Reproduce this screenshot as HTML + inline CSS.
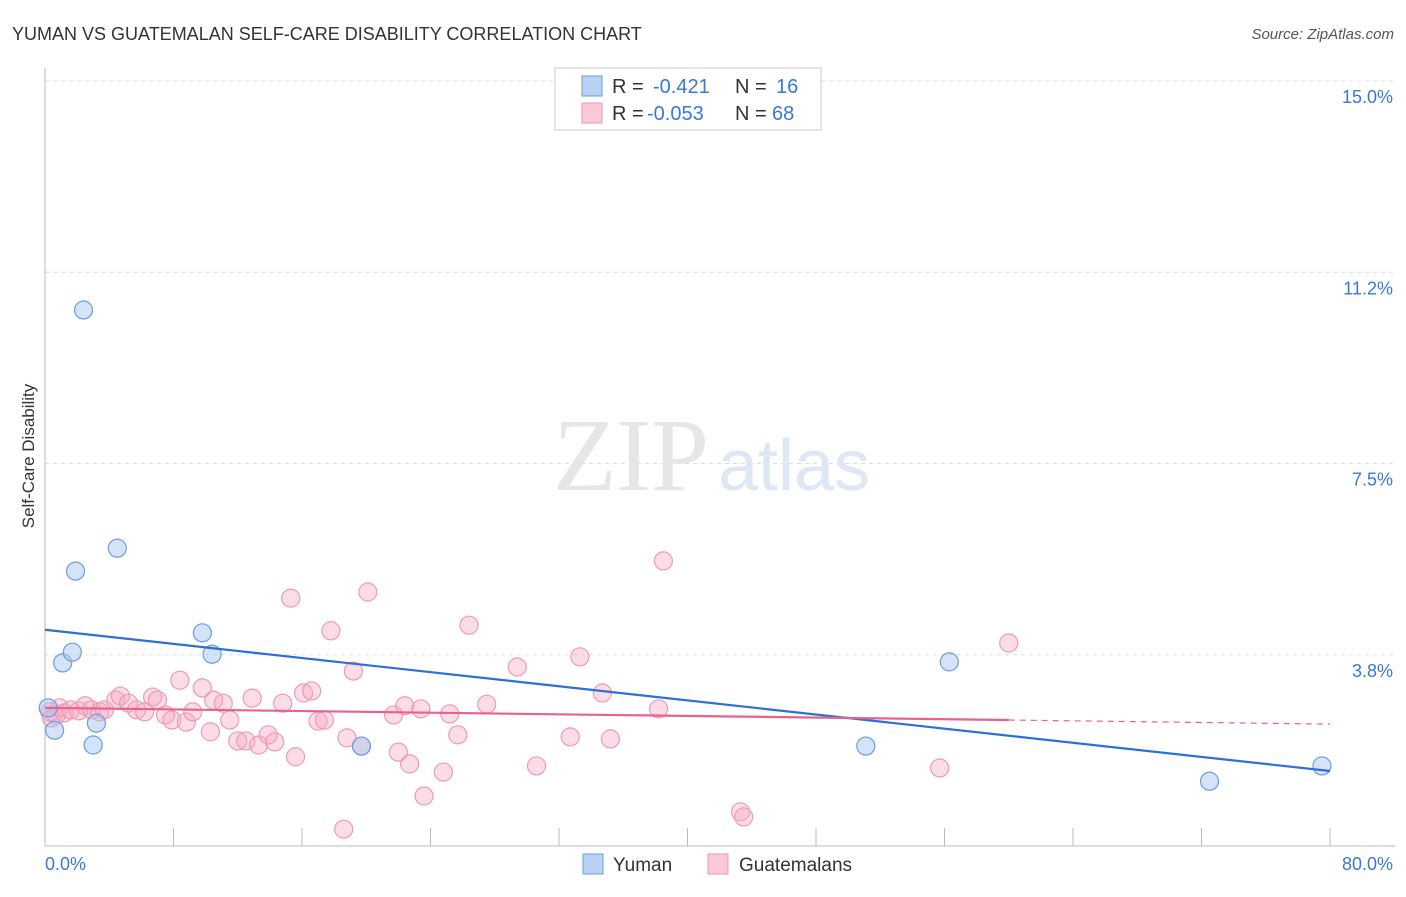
<!DOCTYPE html>
<html><head><meta charset="utf-8"><style>
body{margin:0;background:#fff;font-family:"Liberation Sans",sans-serif;}
</style></head><body>
<svg id="chart" width="1406" height="892" xmlns="http://www.w3.org/2000/svg" font-family="Liberation Sans, sans-serif">
<text x="12" y="40" font-size="18" fill="#333">YUMAN VS GUATEMALAN SELF-CARE DISABILITY CORRELATION CHART</text>
<text x="1394" y="39" font-size="15" fill="#555" font-style="italic" text-anchor="end">Source: ZipAtlas.com</text>
<g id="grid"></g>
<text x="553" y="490" font-size="104" style="font-family:'Liberation Serif',serif" fill="#e6e6e6">ZIP</text>
<text x="718" y="490" font-size="72" style="font-family:'Liberation Sans',sans-serif" fill="#dde7f6">atlas</text>
<text transform="translate(34,456) rotate(-90)" font-size="17" fill="#333" text-anchor="middle">Self-Care Disability</text>
<g id="marks"></g>
<g>
<rect x="555" y="68" width="266" height="62" fill="#fff" stroke="#ccc"/>
<rect x="582" y="76" width="20" height="20" fill="#b9d2f4" stroke="#6b9de0"/>
<rect x="582" y="103" width="20" height="20" fill="#fbc9d8" stroke="#ee95b0"/>
<text x="612" y="93" font-size="20" fill="#333">R =</text><text x="653" y="93" font-size="20" fill="#3a78d8">-0.421</text>
<text x="735" y="93" font-size="20" fill="#333">N =</text><text x="776" y="93" font-size="20" fill="#3a78d8">16</text>
<text x="612" y="120" font-size="20" fill="#333">R =</text><text x="647" y="120" font-size="20" fill="#3a78d8">-0.053</text>
<text x="735" y="120" font-size="20" fill="#333">N =</text><text x="772" y="120" font-size="20" fill="#3a78d8">68</text>
</g>
<g>
<rect x="583" y="854" width="20" height="20" fill="#b9d2f4" stroke="#6b9de0"/>
<text x="613" y="871" font-size="19" fill="#333">Yuman</text>
<rect x="708" y="854" width="20" height="20" fill="#fbc9d8" stroke="#ee95b0"/>
<text x="739" y="871" font-size="19" fill="#333">Guatemalans</text>
</g>
</svg>
<script>
const yTicks=[3.75,7.5,11.25,15];
const yTickLabels=["3.8%","7.5%","11.2%","15.0%"];
const xTickLabels=["0.0%","80.0%"];
const yumanX=[0.2,0.6,2.4,4.5,1.9,1.1,1.7,3.2,3.0,9.8,10.4,19.7,51.1,56.3,72.5,79.5];
const yumanY=[2.71,2.27,10.51,5.84,5.39,3.59,3.80,2.41,1.98,4.18,3.76,1.96,1.96,3.61,1.27,1.57];
const guatX=[0.3,0.4,0.7,0.9,1.2,1.6,2.1,2.5,2.9,3.4,3.7,4.4,4.7,5.2,5.7,6.2,6.7,7.0,7.5,7.9,8.4,8.8,9.2,9.8,10.3,10.5,11.1,11.5,12.0,12.5,12.9,13.3,13.9,14.3,14.8,15.3,15.6,16.1,16.6,17.0,17.4,17.8,18.8,19.2,19.7,20.1,21.7,22.0,22.4,22.7,23.4,23.6,24.8,25.2,25.7,26.4,27.5,29.4,30.6,32.7,33.3,34.7,35.2,38.2,38.5,43.3,43.5,55.7,60.0,18.6];
const guatY=[2.63,2.51,2.57,2.71,2.61,2.67,2.65,2.75,2.67,2.63,2.67,2.86,2.94,2.80,2.67,2.63,2.92,2.86,2.57,2.47,3.25,2.43,2.63,3.10,2.24,2.86,2.80,2.47,2.06,2.06,2.90,1.98,2.18,2.04,2.80,4.86,1.75,3.00,3.04,2.45,2.47,4.22,2.12,3.43,1.96,4.98,2.57,1.84,2.75,1.61,2.69,0.98,1.45,2.59,2.18,4.33,2.78,3.51,1.57,2.14,3.71,3.00,2.10,2.69,5.59,0.67,0.57,1.53,3.98,0.33];
const yumanLine=[4.24,1.47];
const guatLine=[2.71,2.47,2.39];
const X0=45,X1=1330,YB=846,PXV=51;
function xs(v){return X0+(X1-X0)*v/80;}
function ys(v){return YB-v*PXV;}
const NS="http://www.w3.org/2000/svg";
function mk(t,a,p){const e=document.createElementNS(NS,t);for(const k in a)e.setAttribute(k,a[k]);p.appendChild(e);return e;}
const g=document.getElementById('grid');
yTicks.forEach((t,i)=>{
 const l=mk('line',{x1:X0,x2:1395,y1:ys(t),y2:ys(t),stroke:'#dcdcdc','stroke-dasharray':'4,4'},g);
 
 
 const tx=mk('text',{x:1393,y:ys(t)+22,'font-size':18,fill:'#3a78d8','text-anchor':'end'},g);
 tx.textContent=yTickLabels[i];
 
 
});
mk('line',{x1:X0,x2:1395,y1:YB,y2:YB,stroke:'#bbb'},g);
mk('line',{x1:X0,x2:X0,y1:68,y2:YB,stroke:'#bbb'},g);
for(let i=0;i<=10;i++){const x=xs(i*8);const tk=mk('line',{x1:x,x2:x,y1:828,y2:YB,stroke:'#bbb'},g);
 
 }
const xl0=mk('text',{x:45,y:870,'font-size':18,fill:'#3a78d8'},g);xl0.textContent=xTickLabels[0];


const xl1=mk('text',{x:1393,y:870,'font-size':18,fill:'#3a78d8','text-anchor':'end'},g);xl1.textContent=xTickLabels[1];


const m=document.getElementById('marks');
guatX.forEach((x,i)=>{const c=mk('circle',{cx:xs(x),cy:ys(guatY[i]),r:9,fill:'rgba(248,170,195,0.4)',stroke:'#ee9ab3','stroke-width':1.2},m);
 
 });
yumanX.forEach((x,i)=>{const c=mk('circle',{cx:xs(x),cy:ys(yumanY[i]),r:9,fill:'rgba(170,200,240,0.5)',stroke:'#6b9de0','stroke-width':1.2},m);
 
 });
const yl=mk('line',{x1:xs(0),y1:ys(yumanLine[0]),x2:xs(80),y2:ys(yumanLine[1]),stroke:'#2c6fd8','stroke-width':2.2},m);


const gl=mk('line',{x1:xs(0),y1:ys(guatLine[0]),x2:xs(60),y2:ys(guatLine[1]),stroke:'#e8628c','stroke-width':2.2},m);


const gd=mk('line',{x1:xs(60),y1:ys(guatLine[1]),x2:xs(80),y2:ys(guatLine[2]),stroke:'#e8628c','stroke-width':1.2,'stroke-dasharray':'6,5'},m);


</script>
</body></html>
